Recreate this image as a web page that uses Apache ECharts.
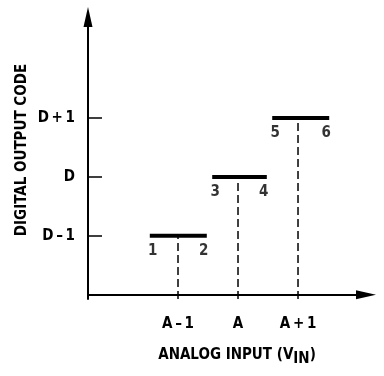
<!DOCTYPE html>
<html>
<head>
<meta charset="utf-8">
<script src="https://cdn.jsdelivr.net/npm/echarts@6/dist/echarts.min.js"></script>
<style>html,body{margin:0;padding:0;background:#fff}#c{width:384px;height:376px}</style>
</head>
<body>
<div id="c"></div>
<script>
const xTickLabels = ['A\u2009\u2013\u20091', 'A', 'A\u2009+\u20091'];
const xTickValues = [3, 4, 5];
const yTickLabels = ['D\u2009\u2013\u20091', 'D', 'D\u2009+\u20091'];
const yTickValues = [1, 2, 3];
const stepStart = [2.53, 3.57, 4.57];
const stepEnd = [3.48, 4.48, 5.52];
const stepLevel = [1, 2, 3];
const transitionX = [3, 4, 5];
const startLabels = ['1', '3', '5'];
const endLabels = ['2', '4', '6'];

const FONT = "'Liberation Sans Narrow', 'DejaVu Sans Condensed', 'Liberation Sans', sans-serif";
const chart = echarts.init(document.getElementById('c'), null, {renderer: 'canvas'});

const series = [];
stepLevel.forEach((lv, i) => {
  series.push({
    type: 'line', silent: true, symbol: 'none',
    data: [[stepStart[i], lv], [stepEnd[i], lv]],
    lineStyle: {color: '#000', width: 4, cap: 'butt'}
  });
  series.push({
    type: 'line', silent: true, symbol: 'none',
    data: [[transitionX[i], -0.07], [transitionX[i], lv]],
    lineStyle: {color: '#000', width: 1.5, type: [8, 4]}
  });
  series.push({
    type: 'scatter', silent: true, symbolSize: 0,
    data: [
      {value: [stepStart[i], lv], label: {formatter: startLabels[i], offset: [3, 15]}},
      {value: [stepEnd[i], lv], label: {formatter: endLabels[i], offset: [-3, 15]}}
    ],
    label: {show: true, position: 'inside', color: '#000', fontFamily: FONT, fontWeight: 'bold', fontSize: 15}
  });
});

chart.setOption({
  animation: false,
  grid: {left: 88, right: 18, top: 17, bottom: 77},
  xAxis: {
    type: 'value', min: 1.5, max: 6.133,
    splitLine: {show: false},
    axisLine: {lineStyle: {color: '#000', width: 2}, symbol: ['none', 'triangle'], symbolSize: [9, 20]},
    axisTick: {show: false},
    axisLabel: {
      customValues: xTickValues, margin: 18, color: '#000', fontFamily: FONT, fontWeight: 'bold', fontSize: 15,
      formatter: v => xTickLabels[xTickValues.indexOf(v)]
    }
  },
  yAxis: {
    type: 'value', min: -0.07, max: 4.71,
    splitLine: {show: false},
    axisLine: {lineStyle: {color: '#000', width: 2}, symbol: ['none', 'triangle'], symbolSize: [9, 20]},
    axisTick: {customValues: yTickValues, inside: true, length: 14, lineStyle: {color: '#000', width: 1.5}},
    axisLabel: {
      customValues: yTickValues, margin: 13, color: '#000', fontFamily: FONT, fontWeight: 'bold', fontSize: 15,
      formatter: v => yTickLabels[yTickValues.indexOf(v)]
    }
  },
  graphic: [
    {type: 'text', x: 22, y: 150, rotation: Math.PI / 2,
     style: {text: 'DIGITAL OUTPUT CODE', fill: '#000', font: "bold 15px " + FONT, align: 'center', verticalAlign: 'middle'}},
    {type: 'text', x: 237, y: 355,
     style: {text: 'ANALOG INPUT (V{sub|IN})', fill: '#000', font: "bold 15px " + FONT, align: 'center', verticalAlign: 'middle',
       rich: {sub: {fontFamily: FONT, fontWeight: 'bold', fontSize: 15, padding: [8, 0, 0, 0], fill: '#000'}}}}
  ],
  series: series
});
</script>
</body>
</html>
